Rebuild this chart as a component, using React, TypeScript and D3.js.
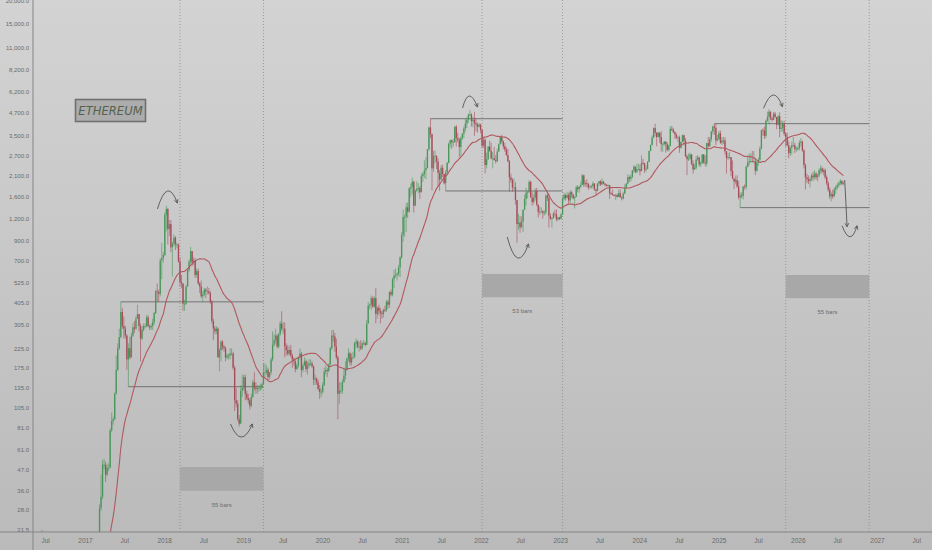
import React, { useEffect, useRef } from 'react';
import * as d3 from 'd3';

// weekly candles: [high, low, close]; open is the previous week's close
type Week = [number, number, number];

const weeks2016: Week[] = [
  [21.5, 11.5, 13.9], [14.8, 11.2, 12.4], [13.0, 10.9, 11.5], [12.0, 10.2, 10.5], [12.0, 10.3, 11.6],
  [14.8, 11.5, 14.1], [14.5, 12.3, 12.7], [12.8, 8.3, 10.9], [12.2, 10.5, 11.0], [11.4, 10.5, 10.8],
  [11.4, 10.7, 11.2], [12.2, 11.1, 11.6], [12.4, 11.4, 12.0], [13.0, 11.8, 12.8], [14.2, 12.4, 13.0],
  [13.6, 12.8, 13.2], [13.4, 12.1, 12.5], [12.6, 11.6, 11.9], [12.3, 11.5, 11.9], [12.0, 10.9, 11.2],
  [11.3, 10.4, 10.9], [11.2, 10.1, 10.3], [10.4, 9.5, 9.9], [9.9, 8.4, 8.7], [8.8, 7.9, 8.4],
  [8.6, 7.8, 8.3], [8.4, 7.6, 7.8], [7.9, 7.0, 7.3], [8.3, 7.1, 8.0],
];

const weeks2017: Week[] = [
  [11.5, 7.9, 10.2], [11.0, 9.4, 9.8], [10.9, 9.6, 10.7], [10.9, 10.3, 10.6], [11.6, 10.5, 11.4],
  [11.6, 10.9, 11.3], [13.1, 11.2, 12.8], [13.5, 12.5, 13.2], [19.5, 13.0, 19.0], [30, 18.5, 28.5],
  [44, 27.5, 33], [53, 32, 50], [54, 47, 50], [52, 40, 44], [50, 43, 48],
  [51, 46, 48], [80, 49, 78], [98, 76, 88], [93, 84, 90], [127, 89, 125],
  [205, 124, 170], [240, 168, 225], [290, 220, 260], [410, 255, 360], [380, 290, 300],
  [340, 255, 290], [300, 255, 265], [270, 170, 195], [240, 137, 225], [260, 195, 200],
  [275, 200, 265], [310, 260, 295], [320, 275, 290], [340, 285, 330], [395, 330, 350],
  [350, 280, 300], [310, 190, 255], [300, 250, 285], [310, 280, 300], [310, 290, 300],
  [345, 295, 335], [345, 295, 300], [305, 285, 295], [310, 285, 300], [330, 285, 315],
  [360, 305, 355], [480, 350, 470], [520, 410, 465], [480, 410, 455], [720, 440, 700],
  [880, 550, 720], [780, 680, 750],
];

const weeks2018: Week[] = [
  [1300, 740, 1260], [1420, 1020, 1360], [1380, 860, 1050], [1180, 960, 1120], [1180, 780, 830],
  [890, 570, 870], [980, 840, 940], [960, 800, 860], [880, 820, 860], [870, 680, 690],
  [730, 500, 530], [580, 490, 520], [520, 365, 400], [420, 365, 400], [510, 395, 500],
  [630, 500, 620], [710, 600, 690], [835, 670, 790], [790, 650, 680], [730, 660, 700],
  [720, 560, 580], [630, 560, 610], [630, 510, 520], [530, 460, 500], [540, 430, 440],
  [470, 410, 450], [490, 440, 480], [490, 430, 470], [500, 450, 470], [490, 450, 460],
  [470, 400, 410], [420, 310, 320], [330, 250, 290], [300, 270, 280], [300, 270, 290],
  [295, 200, 200], [225, 167, 220], [250, 190, 245], [250, 220, 230], [235, 215, 225],
  [230, 190, 200], [210, 195, 205], [210, 195, 205], [225, 195, 210], [225, 205, 210],
  [215, 170, 175], [180, 100, 115], [135, 105, 110], [115, 88, 90], [95, 82, 85],
  [140, 85, 130], [160, 120, 135], [160, 130, 155],
];

const weeks2019: Week[] = [
  [160, 115, 125], [130, 115, 118], [125, 110, 115], [118, 102, 107], [125, 105, 120],
  [150, 118, 145], [165, 130, 135], [145, 125, 133], [140, 125, 135], [140, 128, 135],
  [142, 130, 135], [145, 132, 141], [185, 140, 165], [185, 155, 165], [180, 160, 170],
  [175, 150, 155], [165, 150, 165], [200, 160, 195], [280, 190, 235], [270, 230, 250],
  [290, 240, 265], [270, 225, 230], [275, 225, 270], [320, 265, 310], [363, 280, 290],
  [315, 270, 290], [315, 200, 230], [240, 205, 220], [235, 205, 210], [230, 205, 220],
  [235, 200, 205], [210, 175, 195], [200, 180, 190], [195, 165, 172], [185, 170, 180],
  [200, 175, 200], [225, 195, 210], [215, 155, 170], [185, 165, 180], [200, 180, 190],
  [195, 165, 172], [190, 160, 180], [195, 175, 185], [195, 180, 185], [190, 175, 178],
  [180, 140, 150], [160, 140, 152], [155, 140, 145], [150, 130, 133], [140, 117, 128],
  [135, 120, 128], [145, 125, 140],
];

const weeks2020: Week[] = [
  [175, 138, 166], [180, 160, 170], [175, 155, 168], [185, 165, 183], [230, 180, 225],
  [285, 220, 265], [285, 245, 262], [275, 215, 230], [255, 195, 200], [205, 90, 125],
  [145, 110, 130], [145, 125, 130], [150, 125, 145], [175, 145, 158], [190, 150, 170],
  [200, 168, 197], [225, 190, 211], [215, 180, 187], [210, 180, 200], [215, 195, 200],
  [245, 200, 240], [255, 225, 245], [250, 225, 230], [245, 215, 230], [250, 220, 225],
  [245, 220, 240], [250, 235, 240], [245, 230, 235], [325, 235, 310], [410, 310, 390],
  [400, 375, 395], [445, 370, 430], [440, 380, 385], [440, 380, 430], [490, 310, 350],
  [385, 330, 380], [395, 345, 365], [380, 310, 355], [365, 330, 350], [375, 335, 370],
  [390, 360, 368], [420, 360, 410], [420, 375, 395], [470, 380, 465], [480, 440, 450],
  [560, 440, 550], [620, 490, 575], [630, 560, 580], [600, 540, 590], [660, 570, 640],
  [740, 565, 730], [1010, 715, 975],
];

const weeks2021: Week[] = [
  [1350, 890, 1230], [1270, 950, 1230], [1470, 1010, 1390], [1480, 1210, 1315], [1800, 1300, 1780],
  [1890, 1590, 1810], [2040, 1640, 1935], [1960, 1300, 1420], [1750, 1420, 1725], [1950, 1700, 1770],
  [1900, 1670, 1785], [1830, 1550, 1690], [2150, 1690, 2080], [2200, 1930, 2140], [2550, 2030, 2240],
  [2650, 2000, 2310], [2950, 2300, 2940], [3950, 2900, 3900], [4370, 3400, 3580], [3600, 1730, 2300],
  [2900, 2200, 2700], [2900, 2450, 2710], [2700, 2280, 2510], [2620, 1830, 2170], [2250, 1720, 1990],
  [2400, 1990, 2320], [2410, 2050, 2140], [2130, 1870, 1900], [2250, 1718, 2180], [2500, 2150, 2470],
  [3200, 2450, 3170], [3330, 3010, 3310], [3330, 2950, 3230], [3370, 3040, 3230], [3950, 3200, 3940],
  [4030, 3050, 3400], [3650, 3220, 3330], [3410, 2650, 3030], [3480, 2700, 3400], [3620, 3320, 3600],
  [3950, 3400, 3850], [4380, 3700, 4100], [4460, 3870, 4300], [4670, 4150, 4610], [4870, 4500, 4620],
  [4680, 3950, 4240], [4460, 3920, 4310], [4780, 3500, 4120], [4380, 3700, 4050], [4150, 3650, 3940],
  [4130, 3900, 4050], [4090, 3620, 3770],
];

const weeks2022: Week[] = [
  [3840, 2990, 3080], [3410, 3000, 3330], [3400, 2160, 2400], [2820, 2300, 2590], [3070, 2560, 3050],
  [3290, 2850, 2880], [3200, 2580, 2620], [2840, 2300, 2620], [3040, 2550, 2560], [2730, 2450, 2520],
  [2980, 2500, 2860], [3170, 2880, 3140], [3480, 3180, 3450], [3550, 3170, 3260], [3300, 2950, 3060],
  [3190, 2850, 2930], [3030, 2710, 2730], [2960, 2500, 2520], [2560, 1700, 2050], [2150, 1910, 1980],
  [2030, 1700, 1800], [2020, 1730, 1800], [1920, 1440, 1530], [1530, 880, 1120], [1280, 1040, 1140],
  [1240, 1000, 1075], [1240, 1060, 1160], [1350, 1010, 1350], [1640, 1340, 1550], [1790, 1420, 1680],
  [1720, 1560, 1700], [1980, 1670, 1930], [1960, 1580, 1580], [1700, 1420, 1490], [1650, 1450, 1570],
  [1780, 1520, 1720], [1790, 1410, 1440], [1420, 1220, 1310], [1400, 1260, 1310], [1390, 1300, 1320],
  [1340, 1200, 1290], [1340, 1250, 1300], [1640, 1270, 1620], [1680, 1510, 1570], [1660, 1070, 1250],
  [1290, 1180, 1200], [1220, 1070, 1210], [1310, 1200, 1280], [1350, 1230, 1270], [1350, 1160, 1190],
  [1230, 1170, 1220], [1230, 1180, 1200],
];

const weeks2023: Week[] = [
  [1290, 1190, 1265], [1600, 1260, 1550], [1680, 1520, 1630], [1660, 1520, 1570], [1700, 1560, 1630],
  [1680, 1450, 1520], [1740, 1470, 1690], [1720, 1570, 1640], [1650, 1540, 1565], [1600, 1370, 1590],
  [1840, 1590, 1800], [1850, 1690, 1760], [1830, 1680, 1820], [1940, 1780, 1860], [2140, 1850, 2100],
  [2120, 1810, 1870], [1970, 1810, 1900], [2000, 1800, 1890], [1880, 1740, 1800], [1860, 1780, 1810],
  [1860, 1770, 1830], [1940, 1780, 1890], [1900, 1730, 1750], [1760, 1620, 1720], [1900, 1710, 1890],
  [1950, 1830, 1950], [1970, 1830, 1870], [2020, 1850, 1940], [1950, 1870, 1890], [1900, 1820, 1860],
  [1880, 1820, 1830], [1870, 1820, 1850], [1850, 1550, 1670], [1690, 1630, 1650], [1750, 1620, 1630],
  [1650, 1600, 1620], [1650, 1530, 1630], [1660, 1580, 1590], [1750, 1590, 1670], [1750, 1580, 1580],
  [1600, 1520, 1560], [1700, 1540, 1660], [1870, 1650, 1780], [1900, 1770, 1890], [2130, 1870, 2050],
  [2100, 1930, 2010], [2130, 1940, 2060], [2250, 2020, 2240], [2400, 2170, 2350], [2360, 2160, 2200],
  [2440, 2160, 2270], [2440, 2250, 2280],
];

const weeks2024: Week[] = [
  [2420, 2100, 2220], [2720, 2220, 2470], [2600, 2410, 2460], [2470, 2170, 2260], [2400, 2200, 2290],
  [2530, 2270, 2500], [2890, 2500, 2880], [3130, 2870, 3110], [3520, 3100, 3420], [3900, 3400, 3870],
  [4090, 3480, 3640], [3680, 3060, 3450], [3680, 3420, 3650], [3650, 3200, 3450], [3720, 2860, 3150],
  [3200, 2850, 3150], [3280, 3070, 3250], [3250, 2820, 3140], [3230, 2870, 2920], [3130, 2860, 3070],
  [3980, 3060, 3830], [3970, 3730, 3780], [3880, 3630, 3670], [3720, 3360, 3560], [3620, 3360, 3420],
  [3480, 3240, 3440], [3520, 2810, 3000], [3230, 2970, 3240], [3560, 3220, 3530], [3550, 3090, 3280],
  [3400, 2660, 2690], [2750, 2110, 2590], [2790, 2530, 2610], [2820, 2550, 2750], [2770, 2390, 2430],
  [2550, 2150, 2270], [2450, 2270, 2320], [2700, 2270, 2580], [2730, 2540, 2650], [2670, 2350, 2420],
  [2520, 2340, 2460], [2770, 2440, 2750], [2770, 2440, 2480], [2720, 2360, 2450], [3200, 2360, 3190],
  [3450, 3000, 3070], [3450, 3030, 3360], [3740, 3250, 3700], [4000, 3560, 3950], [4100, 3540, 3880],
  [4100, 3100, 3300], [3540, 3250, 3350], [3740, 3320, 3620],
];

const weeks2025: Week[] = [
  [3750, 3160, 3200], [3450, 3110, 3300], [3450, 3150, 3300], [3440, 2750, 2870], [2870, 2150, 2630],
  [2800, 2560, 2660], [2850, 2600, 2660], [2660, 2080, 2220], [2550, 2000, 2020], [2020, 1760, 1940],
  [2100, 1870, 1980], [2100, 1790, 1820], [1950, 1540, 1580], [1680, 1385, 1620], [1690, 1560, 1610],
  [1830, 1540, 1820], [1870, 1750, 1810], [2390, 1750, 2350], [2740, 2330, 2490], [2790, 2390, 2530],
  [2790, 2460, 2530], [2880, 2480, 2510], [2880, 2450, 2530], [2640, 2110, 2230], [2530, 2200, 2490],
  [2640, 2380, 2570], [3050, 2500, 2970], [3800, 2940, 3760], [3860, 3500, 3740], [3940, 3360, 3500],
  [4320, 3400, 4260], [4790, 4200, 4480], [4950, 4060, 4790], [4800, 4300, 4390], [4500, 4200, 4300],
  [4770, 4280, 4660], [4770, 4410, 4470], [4470, 3820, 4040], [4590, 4020, 4510], [4750, 3440, 3830],
  [4290, 3680, 3890], [4250, 3700, 4100], [4250, 3500, 3600], [3650, 3050, 3450], [3650, 3050, 3100],
  [3250, 2620, 2800], [3050, 2700, 3000], [3250, 2750, 3100], [3450, 3050, 3100], [3200, 2800, 2950],
  [3050, 2850, 2950], [3050, 2900, 3000],
];

const weeks2026: Week[] = [
  [3300, 2900, 3200], [3400, 3050, 3250], [3300, 2850, 2900], [2950, 2300, 2400], [2450, 1750, 2050],
  [2150, 1900, 2000], [2100, 1880, 1950], [2050, 1800, 2000], [2150, 1950, 2100], [2200, 1950, 2050],
  [2250, 2000, 2150], [2200, 1980, 2050], [2150, 1950, 2100], [2300, 2050, 2250], [2400, 2150, 2300],
  [2350, 2150, 2200], [2300, 2100, 2250], [2300, 2000, 2050], [2100, 1850, 1900], [1950, 1700, 1750],
  [1800, 1550, 1600], [1700, 1500, 1650], [1750, 1550, 1600], [1800, 1600, 1750], [1850, 1650, 1800],
  [1900, 1750, 1850], [1950, 1800, 1900], [2000, 1850, 1950], [1980, 1850, 1880], [1950, 1850, 1900],
];

// first Monday of each block
const blockStarts = ['2016-06-13', '2017-01-02', '2018-01-01', '2019-01-07', '2020-01-06', '2021-01-04',
  '2022-01-03', '2023-01-02', '2024-01-01', '2025-01-06', '2026-01-05'];
const blocks = [weeks2016, weeks2017, weeks2018, weeks2019, weeks2020, weeks2021,
  weeks2022, weeks2023, weeks2024, weeks2025, weeks2026];

const priceTicks = [20000, 15000, 11000, 8200, 6200, 4700, 3500, 2700, 2100, 1600, 1200, 900, 700,
  525, 405, 305, 225, 175, 135, 105, 81, 61, 47, 36, 28, 21.5];

const timeTicks = ['2016-07-01', '2017-01-01', '2017-07-01', '2018-01-01', '2018-07-01', '2019-01-01',
  '2019-07-01', '2020-01-01', '2020-07-01', '2021-01-01', '2021-07-01', '2022-01-01', '2022-07-01',
  '2023-01-01', '2023-07-01', '2024-01-01', '2024-07-01', '2025-01-01', '2025-07-01', '2026-01-01',
  '2026-07-01', '2027-01-01', '2027-07-01'];

// date range tool: start week, bar count, price band
const rangeStarts = ['2018-03-12', '2022-01-03', '2025-11-03'];
const rangeBars = [55, 53, 55];
const rangeTop = [48.5, 588, 580];
const rangeBottom = [35.7, 435, 430];

// horizontal levels: start week, price, range they run to
const levelStarts = ['2017-06-12', '2017-07-17', '2021-05-10', '2021-07-19', '2024-12-09', '2025-04-07'];
const levelPrices = [410, 137, 4370, 1718, 4100, 1385];
const levelRange = [0, 0, 1, 1, 2, 2];

// hand-drawn arrows: start, bend, end as [date, price]
const swingArrows: [string, number][][] = [
  [['2017-11-28', 1361], ['2018-01-13', 2084], ['2018-02-28', 1470]],
  [['2018-10-31', 84.6], ['2018-12-20', 60.4], ['2019-02-09', 84.6]],
  [['2021-10-05', 5018], ['2021-11-02', 6799], ['2021-12-13', 5083]],
  [['2022-04-29', 948], ['2022-06-15', 576], ['2022-08-05', 866]],
  [['2025-07-24', 4999], ['2025-09-08', 6977], ['2025-10-19', 5104]],
  [['2026-08-02', 1980], ['2026-08-08', 1460], ['2026-08-13', 1082]],
  [['2026-07-21', 1096], ['2026-08-29', 825], ['2026-09-28', 1096]],
];

const maPeriod = 30;

function App() {
  const ref = useRef<SVGSVGElement>(null);

  useEffect(() => {
    document.body.style.margin = '0';
    const svg = d3.select(ref.current);
    svg.selectAll('*').remove();

    const W = 932, H = 550;
    const axisX = 33, axisY = 532;
    const font = "'Liberation Sans', Arial, sans-serif";
    const parse = d3.utcParse('%Y-%m-%d');

    const x = d3.scaleUtc()
      .domain([parse('2017-01-01') as Date, parse('2027-01-01') as Date])
      .range([85, 877]);
    const y = d3.scaleLog().domain([21.5, 20000]).range([530, 1]);
    // candles sit mid-week
    const xc = (d: Date) => x(d3.utcDay.offset(d, 3));

    // build candles
    const candles: { date: Date; open: number; high: number; low: number; close: number }[] = [];
    let prev: number | null = null;
    blocks.forEach((weeks, b) => {
      const start = parse(blockStarts[b]) as Date;
      weeks.forEach((w, i) => {
        const open = prev ?? w[2];
        candles.push({
          date: d3.utcDay.offset(start, 7 * i),
          open,
          high: Math.max(w[0], open, w[2]),
          low: Math.min(w[1], open, w[2]),
          close: w[2],
        });
        prev = w[2];
      });
    });

    const ma = candles.map((c, i) => ({
      date: c.date,
      value: i >= maPeriod - 1 ? d3.mean(candles.slice(i - maPeriod + 1, i + 1), d => d.close) : undefined,
    })).filter(d => d.value !== undefined) as { date: Date; value: number }[];

    const defs = svg.append('defs');
    const grad = defs.append('linearGradient').attr('id', 'bg').attr('x1', 0).attr('y1', 0).attr('x2', 0).attr('y2', 1);
    grad.append('stop').attr('offset', '0%').attr('stop-color', '#d3d3d3');
    grad.append('stop').attr('offset', '100%').attr('stop-color', '#bababa');
    defs.append('clipPath').attr('id', 'plot')
      .append('rect').attr('x', axisX).attr('y', 0).attr('width', W - axisX).attr('height', axisY);

    svg.append('rect').attr('width', W).attr('height', H).attr('fill', 'url(#bg)');

    const plot = svg.append('g').attr('clip-path', 'url(#plot)');

    // date ranges
    const ranges = rangeStarts.map((s, i) => {
      const from = parse(s) as Date;
      return { from, to: d3.utcDay.offset(from, 7 * rangeBars[i]), bars: rangeBars[i], top: rangeTop[i], bottom: rangeBottom[i] };
    });

    ranges.forEach(r => {
      [r.from, r.to].forEach(d => {
        plot.append('line')
          .attr('x1', xc(d)).attr('x2', xc(d)).attr('y1', 0).attr('y2', axisY)
          .attr('stroke', '#8c8c8c').attr('stroke-width', 0.8).attr('stroke-dasharray', '1,2');
      });
      plot.append('rect')
        .attr('x', xc(r.from)).attr('y', y(r.top))
        .attr('width', xc(r.to) - xc(r.from)).attr('height', y(r.bottom) - y(r.top))
        .attr('fill', '#a8a8a8');
      plot.append('text')
        .attr('x', (xc(r.from) + xc(r.to)) / 2).attr('y', y(r.bottom) + 16)
        .attr('text-anchor', 'middle').attr('font-family', font).attr('font-size', 6)
        .attr('fill', '#6c6c6c').text(`${r.bars} bars`);
    });

    // horizontal levels
    levelStarts.forEach((s, i) => {
      const r = ranges[levelRange[i]];
      plot.append('line')
        .attr('x1', xc(parse(s) as Date)).attr('x2', xc(r.to))
        .attr('y1', y(levelPrices[i])).attr('y2', y(levelPrices[i]))
        .attr('stroke', '#6a6a6a').attr('stroke-width', 0.9);
    });

    // candles
    const up = '#4a965a', down = '#a64b58';
    const g = plot.append('g');
    g.selectAll('.wick')
      .data(candles)
      .enter().append('line')
      .attr('x1', d => xc(d.date)).attr('x2', d => xc(d.date))
      .attr('y1', d => y(d.high)).attr('y2', d => y(d.low))
      .attr('stroke', d => d.close >= d.open ? up : down)
      .attr('stroke-opacity', 0.8)
      .attr('stroke-width', 0.75);
    g.selectAll('.body')
      .data(candles)
      .enter().append('rect')
      .attr('x', d => xc(d.date) - 0.65)
      .attr('width', 1.3)
      .attr('y', d => y(Math.max(d.open, d.close)))
      .attr('height', d => Math.max(0.8, y(Math.min(d.open, d.close)) - y(Math.max(d.open, d.close))))
      .attr('fill', d => d.close >= d.open ? up : down);

    // moving average
    const maLine = d3.line<{ date: Date; value: number }>()
      .x(d => xc(d.date))
      .y(d => y(d.value))
      .curve(d3.curveMonotoneX);
    plot.append('path')
      .datum(ma)
      .attr('fill', 'none')
      .attr('stroke', '#b2585f')
      .attr('stroke-width', 1.1)
      .attr('d', maLine);

    // arrows
    swingArrows.forEach(a => {
      const p = a.map(([d, v]) => [xc(parse(d) as Date), y(v)]);
      plot.append('path')
        .attr('d', `M${p[0][0]},${p[0][1]} Q${p[1][0]},${p[1][1]} ${p[2][0]},${p[2][1]}`)
        .attr('fill', 'none').attr('stroke', '#555').attr('stroke-width', 0.9);
      const ang = Math.atan2(p[2][1] - p[1][1], p[2][0] - p[1][0]);
      [0.5, -0.5].forEach(t => {
        plot.append('line')
          .attr('x1', p[2][0]).attr('y1', p[2][1])
          .attr('x2', p[2][0] - 4 * Math.cos(ang + t)).attr('y2', p[2][1] - 4 * Math.sin(ang + t))
          .attr('stroke', '#555').attr('stroke-width', 0.9);
      });
    });

    // title label
    const label = svg.append('g');
    label.append('rect')
      .attr('x', 75.5).attr('y', 99.5).attr('width', 70).attr('height', 22)
      .attr('fill', '#acacac').attr('stroke', '#707070').attr('stroke-width', 1.6);
    label.append('text')
      .attr('x', 110.5).attr('y', 114.8)
      .attr('text-anchor', 'middle')
      .attr('font-family', "'DejaVu Sans', sans-serif")
      .attr('font-style', 'italic')
      .attr('font-size', 11.6)
      .attr('fill', '#55614f')
      .text('ETHEREUM');

    // y axis
    const yAxis = svg.append('g')
      .attr('transform', `translate(${axisX},0)`)
      .call(d3.axisLeft(y).tickValues(priceTicks).tickSize(0).tickPadding(4).tickFormat(d3.format(',.1f')));
    yAxis.select('.domain').remove();
    yAxis.selectAll('text').attr('font-family', font).attr('font-size', 6).attr('fill', '#6a6a6a');

    // x axis
    const xAxis = svg.append('g')
      .attr('transform', `translate(0,${axisY})`)
      .call(d3.axisBottom(x)
        .tickValues(timeTicks.map(t => parse(t) as Date))
        .tickSize(0).tickPadding(6)
        .tickFormat(d => (d as Date).getUTCMonth() === 0 ? d3.utcFormat('%Y')(d as Date) : 'Jul'));
    xAxis.select('.domain').remove();
    xAxis.selectAll('text').attr('font-family', font).attr('font-size', 6.5).attr('fill', '#6a6a6a');

    svg.append('line').attr('x1', axisX).attr('x2', axisX).attr('y1', 0).attr('y2', H)
      .attr('stroke', '#858585').attr('stroke-width', 1);
    svg.append('line').attr('x1', 0).attr('x2', W).attr('y1', axisY).attr('y2', axisY)
      .attr('stroke', '#858585').attr('stroke-width', 1);
  }, []);

  return (
    <svg ref={ref} width={932} height={550} style={{ display: 'block', position: 'absolute', left: 0, top: 0 }} />
  );
}

export default App;
